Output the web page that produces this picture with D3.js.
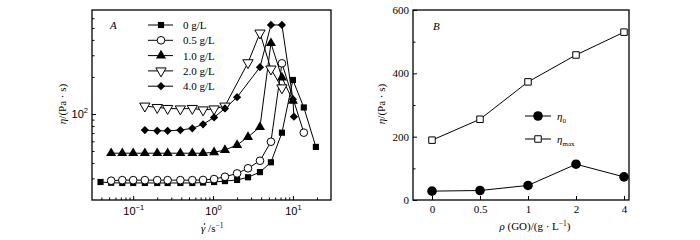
<!DOCTYPE html>
<html>
<head>
<meta charset="UTF-8">
<script src="https://cdn.jsdelivr.net/npm/d3@7"></script>
<style>
    body { margin: 0; background: #fff; }
    svg { font-family: "Liberation Serif", "DejaVu Serif", serif; }
    .domain { display: none; }
</style>
</head>
<body>
<script>
    // panel A: viscosity vs shear rate, one pair of arrays per GO concentration
    var legendA = ["0 g/L", "0.5 g/L", "1.0 g/L", "2.0 g/L", "4.0 g/L"];
    var rate0 = [0.039, 0.053, 0.073, 0.1, 0.14, 0.2, 0.27, 0.39, 0.55, 0.75, 1.03, 1.41, 2.0, 2.74, 3.87, 5.31, 7.29, 10, 13.7, 19.4];
    var eta0 = [28, 27.6, 27.5, 27.5, 27.5, 27.5, 27.5, 27.5, 27.5, 27.7, 28, 28.5, 29.1, 30.6, 33.7, 40.5, 70.5, 189, 113, 54];
    var rate05 = [0.053, 0.073, 0.1, 0.14, 0.2, 0.27, 0.39, 0.55, 0.75, 1.03, 1.41, 2.0, 2.74, 3.87, 5.31, 7.29, 13.7];
    var eta05 = [28.7, 29, 29, 29, 29, 29, 29, 29, 29.1, 29.6, 30.9, 32.9, 36.2, 41.7, 59.5, 258, 70.5];
    var rate1 = [0.053, 0.073, 0.1, 0.14, 0.2, 0.27, 0.39, 0.55, 0.75, 1.03, 1.41, 2.0, 2.74, 3.87, 5.31, 7.29, 10];
    var eta1 = [48, 48, 48, 48, 48, 48, 48, 48, 48, 48.8, 51, 56, 65, 78.4, 376, 198, 128];
    var rate2 = [0.14, 0.2, 0.27, 0.39, 0.55, 0.75, 1.03, 1.41, 2.74, 3.87, 5.31, 7.29];
    var eta2 = [116, 113, 111, 110, 111, 108, 110, 116, 261, 455, 232, 163];
    var rate4 = [0.14, 0.2, 0.27, 0.39, 0.55, 0.75, 1.03, 1.41, 2.0, 3.87, 5.31, 7.29, 10, 10.3];
    var eta4 = [74, 73, 73, 74, 76.5, 82.5, 93.7, 111, 137, 240, 529, 529, 132, 95];

    // panel B: zero-shear and maximum viscosity vs GO
    var goLabels = ["0", "0.5", "1", "2", "4"];
    var etaZero = [28, 30, 46, 113, 73];
    var etaMax = [189, 255, 373, 458, 530];
    var yTicksB = [0, 200, 400, 600];

    var svg = d3.select("body").append("svg").attr("width", 700).attr("height", 240);

    var sym = {
        square: function(s) { return s.append("path").attr("d", d3.symbol(d3.symbolSquare, 38)).attr("fill", "#000"); },
        circle: function(s) { return s.append("path").attr("d", d3.symbol(d3.symbolCircle, 46)).attr("fill", "#fff").attr("stroke", "#000"); },
        tri: function(s) { return s.append("path").attr("d", d3.symbol(d3.symbolTriangle, 44)).attr("fill", "#000"); },
        triDown: function(s) { return s.append("path").attr("d", d3.symbol(d3.symbolTriangle, 46)).attr("fill", "#fff").attr("stroke", "#000").attr("transform", "rotate(180)"); },
        diamond: function(s) { return s.append("path").attr("d", d3.symbol(d3.symbolSquare, 34)).attr("fill", "#000").attr("transform", "rotate(45)"); },
        openSquare: function(s) { return s.append("path").attr("d", d3.symbol(d3.symbolSquare, 42)).attr("fill", "#fff").attr("stroke", "#000"); },
        dot: function(s) { return s.append("path").attr("d", d3.symbol(d3.symbolCircle, 72)).attr("fill", "#000"); }
    };

    // ---------- panel A ----------
    var x = d3.scaleLog().domain([0.0305, 30]).range([92, 331]);
    var y = d3.scaleLog().domain([20, 700]).range([200, 10]);

    var seriesA = [
        { r: rate0, e: eta0, m: "square" },
        { r: rate05, e: eta05, m: "circle" },
        { r: rate1, e: eta1, m: "tri" },
        { r: rate2, e: eta2, m: "triDown" },
        { r: rate4, e: eta4, m: "diamond" }
    ];

    var gA = svg.append("g");
    var line = d3.line().x(function(d) { return x(d[0]); }).y(function(d) { return y(d[1]); });

    seriesA.forEach(function(s) {
        var pts = d3.zip(s.r, s.e);
        gA.append("path").datum(pts).attr("d", line)
            .attr("fill", "none").attr("stroke", "#000").attr("stroke-width", 1);
    });
    seriesA.forEach(function(s) {
        var pts = d3.zip(s.r, s.e);
        gA.selectAll(null).data(pts).enter().append("g")
            .attr("transform", function(d) { return "translate(" + x(d[0]) + "," + y(d[1]) + ")"; })
            .each(function() { sym[s.m](d3.select(this)); });
    });

    var xMajor = [0.1, 1, 10];
    var xMinor = [];
    [0.01, 0.1, 1, 10].forEach(function(b) {
        for (var i = 2; i <= 9; i++) {
            var v = b * i;
            if (v > 0.0305 && v < 30) xMinor.push(v);
        }
    });
    var yMinor = [30, 40, 50, 60, 70, 80, 90, 200, 300, 400, 500, 600];

    var axXA = gA.append("g").attr("transform", "translate(0,200)")
        .call(d3.axisBottom(x).tickValues(xMajor).tickSize(-4).tickPadding(6).tickFormat(""));
    gA.append("g").attr("transform", "translate(0,200)")
        .call(d3.axisBottom(x).tickValues(xMinor).tickSize(-2.5).tickFormat(""));
    var xExp = { 0.1: "\u22121", 1: "0", 10: "1" };
    axXA.selectAll(".tick").append("text")
        .attr("y", 15).attr("fill", "#000").attr("font-size", 11).attr("text-anchor", "middle")
        .each(function(d) {
            var t = d3.select(this);
            t.append("tspan").text("10");
            t.append("tspan").attr("dy", -5).attr("font-size", 7.5).text(xExp[d]);
        });

    var axYA = gA.append("g").attr("transform", "translate(92,0)")
        .call(d3.axisLeft(y).tickValues([100]).tickSize(-4).tickFormat(""));
    gA.append("g").attr("transform", "translate(92,0)")
        .call(d3.axisLeft(y).tickValues(yMinor).tickSize(-2.5).tickFormat(""));
    axYA.selectAll(".tick").append("text")
        .attr("x", -4).attr("dy", 4).attr("fill", "#000").attr("font-size", 11).attr("text-anchor", "end")
        .each(function() {
            var t = d3.select(this);
            t.append("tspan").text("10");
            t.append("tspan").attr("dy", -5).attr("font-size", 7.5).text("2");
        });

    gA.append("rect").attr("x", 92).attr("y", 10).attr("width", 239).attr("height", 190)
        .attr("fill", "none").attr("stroke", "#000").attr("stroke-width", 1.3);

    gA.append("text").attr("x", 110).attr("y", 29).attr("font-size", 11).attr("font-style", "italic").text("A");

    var legA = gA.selectAll(".legA").data(legendA).enter().append("g")
        .attr("transform", function(d, i) { return "translate(0," + (25 + i * 15.3) + ")"; });
    legA.append("line").attr("x1", 148).attr("x2", 173).attr("stroke", "#000").attr("stroke-width", 1);
    legA.append("g").attr("transform", "translate(161,0)")
        .each(function(d, i) { sym[seriesA[i].m](d3.select(this)); });
    legA.append("text").attr("x", 183).attr("y", 4).attr("font-size", 11).text(function(d) { return d; });

    var labA = gA.append("text").attr("transform", "translate(66,104) rotate(-90)")
        .attr("text-anchor", "middle").attr("font-size", 11);
    labA.append("tspan").attr("font-style", "italic").text("\u03b7");
    labA.append("tspan").text("/(Pa \u00b7 s)");

    // gamma-dot label; the dot above the gamma is a tiny circle
    var labXA = gA.append("text").attr("x", 201).attr("y", 232).attr("font-size", 11);
    labXA.append("tspan").attr("font-style", "italic").text("\u03b3");
    labXA.append("tspan").text(" /s");
    labXA.append("tspan").attr("dy", -4).attr("font-size", 7.5).text("\u22121");
    gA.append("circle").attr("cx", 204.5).attr("cy", 224).attr("r", 0.8).attr("fill", "#000");

    // ---------- panel B ----------
    var xB = d3.scalePoint().domain(goLabels).range([432, 624]);
    var yB = d3.scaleLinear().domain([0, 600]).range([200, 10]);
    var gB = svg.append("g");

    var lineB = d3.line().x(function(d, i) { return xB(goLabels[i]); }).y(function(d) { return yB(d); });
    [[etaMax, "openSquare"], [etaZero, "dot"]].forEach(function(p) {
        gB.append("path").datum(p[0]).attr("d", lineB)
            .attr("fill", "none").attr("stroke", "#000").attr("stroke-width", 1);
        gB.selectAll(null).data(p[0]).enter().append("g")
            .attr("transform", function(d, i) { return "translate(" + xB(goLabels[i]) + "," + yB(d) + ")"; })
            .each(function() { sym[p[1]](d3.select(this)); });
    });

    gB.append("g").attr("transform", "translate(0,200)")
        .call(d3.axisBottom(xB).tickSize(-4).tickPadding(5))
        .selectAll("text").attr("font-size", 11).attr("font-family", "Liberation Serif").attr("fill", "#000");
    gB.append("g").attr("transform", "translate(413,0)")
        .call(d3.axisLeft(yB).tickValues(yTicksB).tickSize(-4).tickPadding(4))
        .selectAll("text").attr("font-size", 11).attr("font-family", "Liberation Serif").attr("fill", "#000");
    gB.append("g").attr("transform", "translate(413,0)")
        .call(d3.axisLeft(yB).tickValues([100, 300, 500]).tickSize(-2.5).tickFormat(""));

    gB.append("rect").attr("x", 413).attr("y", 10).attr("width", 216).attr("height", 190)
        .attr("fill", "none").attr("stroke", "#000").attr("stroke-width", 1.3);

    gB.append("text").attr("x", 433).attr("y", 30).attr("font-size", 11).attr("font-style", "italic").text("B");

    var legB = gB.selectAll(".legB").data([["dot", "0"], ["openSquare", "max"]]).enter().append("g")
        .attr("transform", function(d, i) { return "translate(0," + (116 + i * 23) + ")"; });
    legB.append("line").attr("x1", 525).attr("x2", 551).attr("stroke", "#000").attr("stroke-width", 1);
    legB.append("g").attr("transform", "translate(538,0)").each(function(d) { sym[d[0]](d3.select(this)); });
    var lt = legB.append("text").attr("x", 557).attr("y", 4).attr("font-size", 11);
    lt.append("tspan").attr("font-style", "italic").text("\u03b7");
    lt.append("tspan").attr("dy", 3).attr("font-size", 7).text(function(d) { return d[1]; });

    var labB = gB.append("text").attr("transform", "translate(385,104) rotate(-90)")
        .attr("text-anchor", "middle").attr("font-size", 11);
    labB.append("tspan").attr("font-style", "italic").text("\u03b7");
    labB.append("tspan").text("/(Pa \u00b7 s)");

    var labXB = gB.append("text").attr("x", 535).attr("y", 230).attr("text-anchor", "middle").attr("font-size", 11);
    labXB.append("tspan").attr("font-style", "italic").text("\u03c1");
    labXB.append("tspan").text(" (GO)/(g \u00b7 L");
    labXB.append("tspan").attr("dy", -4).attr("font-size", 7.5).text("\u22121");
    labXB.append("tspan").attr("dy", 4).text(")");
</script>
</body>
</html>
